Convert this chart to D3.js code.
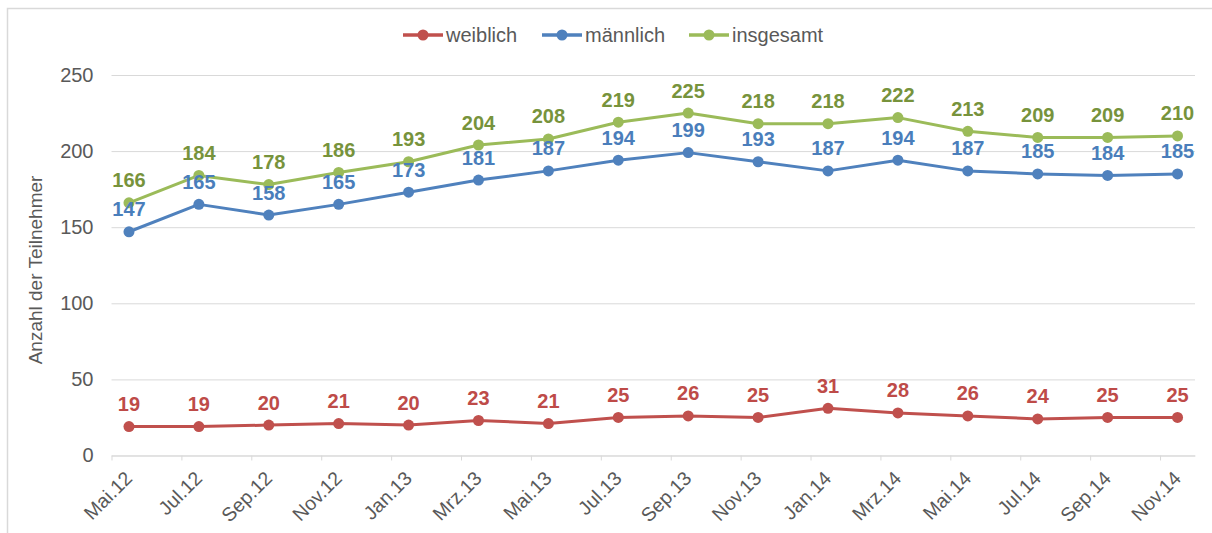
<!DOCTYPE html>
<html>
<head>
<meta charset="utf-8">
<script src="https://cdn.jsdelivr.net/npm/d3@7"></script>
<style>
    body { margin: 0; background: #fff; }
    svg { display: block; font-family: Arial, "Liberation Sans", sans-serif; }
</style>
</head>
<body>
<div id="chart"></div>
<script>
// Erhebungszeitpunkte (alle zwei Monate)
const categories = ['Mai.12', 'Jul.12', 'Sep.12', 'Nov.12', 'Jan.13', 'Mrz.13', 'Mai.13', 'Jul.13',
    'Sep.13', 'Nov.13', 'Jan.14', 'Mrz.14', 'Mai.14', 'Jul.14', 'Sep.14', 'Nov.14'];
const weiblich = [19, 19, 20, 21, 20, 23, 21, 25, 26, 25, 31, 28, 26, 24, 25, 25];
const maennlich = [147, 165, 158, 165, 173, 181, 187, 194, 199, 193, 187, 194, 187, 185, 184, 185];
const insgesamt = [166, 184, 178, 186, 193, 204, 208, 219, 225, 218, 218, 222, 213, 209, 209, 210];
const yTicks = [0, 50, 100, 150, 200, 250];
const seriesNames = ['weiblich', 'männlich', 'insgesamt'];

const series = [
    { name: seriesNames[0], values: weiblich, line: '#c0504d', label: '#be4b48' },
    { name: seriesNames[1], values: maennlich, line: '#4f81bd', label: '#4a7ebb' },
    { name: seriesNames[2], values: insgesamt, line: '#9bbb59', label: '#77933c' },
];

const width = 1212, height = 533;
const plot = { left: 111.5, right: 1195, top: 75, bottom: 455.5 };

const svg = d3.select('#chart').append('svg')
    .attr('width', width)
    .attr('height', height);

svg.append('rect').attr('width', width).attr('height', height).attr('fill', '#fff');
// Rahmen
svg.append('rect')
    .attr('x', 7.5).attr('y', 8.5)
    .attr('width', 1212).attr('height', 540)
    .attr('fill', 'none').attr('stroke', '#d9d9d9').attr('stroke-width', 1.5);

// x: Monate seit Mai 2012, Punkte jeweils zur Monatsmitte
const x = d3.scaleLinear().domain([0, 31]).range([plot.left, plot.right]);
const xPos = (i) => x(2 * i + 0.5);

const y = d3.scaleLinear().domain([0, 250]).range([plot.bottom, plot.top]);

// y-Achse mit Gitterlinien
const yAxis = svg.append('g')
    .attr('transform', `translate(${plot.left},0)`)
    .call(d3.axisLeft(y).tickValues(yTicks).tickSize(-(plot.right - plot.left)).tickPadding(18));
yAxis.select('.domain').remove();
yAxis.selectAll('line').attr('stroke', '#d9d9d9').attr('stroke-width', 1);
yAxis.selectAll('text')
    .attr('fill', '#595959')
    .style('font-size', '20px');

// x-Achse
const xAxis = svg.append('g')
    .attr('transform', `translate(0,${plot.bottom})`)
    .call(d3.axisBottom(x)
        .tickValues(categories.map((c, i) => 2 * i))
        .tickFormat((d, i) => categories[i])
        .tickSizeOuter(0)
        .tickSizeInner(5));
xAxis.select('.domain').attr('stroke', '#d9d9d9');
xAxis.selectAll('line').attr('stroke', '#d9d9d9');
xAxis.selectAll('text')
    .attr('x', 0).attr('y', 0).attr('dy', 0)
    .attr('text-anchor', 'end')
    .attr('transform', 'translate(21.5,24) rotate(-45)')
    .attr('fill', '#595959')
    .style('font-size', '19.5px');

// y-Achsentitel
svg.append('text')
    .attr('transform', 'translate(42,270) rotate(-90)')
    .attr('text-anchor', 'middle')
    .attr('fill', '#595959')
    .style('font-size', '19px')
    .text('Anzahl der Teilnehmer');

// Linien und Punkte
const line = d3.line()
    .x((d, i) => xPos(i))
    .y((d) => y(d));

series.forEach((s) => {
    svg.append('path')
        .datum(s.values)
        .attr('fill', 'none')
        .attr('stroke', s.line)
        .attr('stroke-width', 3)
        .attr('stroke-linejoin', 'round')
        .attr('d', line);

    svg.selectAll(null)
        .data(s.values)
        .enter()
        .append('circle')
        .attr('cx', (d, i) => xPos(i))
        .attr('cy', (d) => y(d))
        .attr('r', 5.5)
        .attr('fill', s.line);
});

// Datenbeschriftungen
series.forEach((s) => {
    svg.selectAll(null)
        .data(s.values)
        .enter()
        .append('text')
        .attr('x', (d, i) => xPos(i))
        .attr('y', (d) => y(d) - 15.5)
        .attr('text-anchor', 'middle')
        .attr('fill', s.label)
        .style('font-size', '20px')
        .style('font-weight', 'bold')
        .text((d) => d);
});

// Legende
const legendItems = [
    { x: 403, text: 446 },
    { x: 542, text: 585 },
    { x: 689, text: 732 },
];
series.forEach((s, i) => {
    const g = svg.append('g');
    const lx = legendItems[i].x;
    g.append('line')
        .attr('x1', lx).attr('x2', lx + 40)
        .attr('y1', 35).attr('y2', 35)
        .attr('stroke', s.line).attr('stroke-width', 3.5);
    g.append('circle')
        .attr('cx', lx + 20).attr('cy', 35).attr('r', 5.5)
        .attr('fill', s.line);
    g.append('text')
        .attr('x', legendItems[i].text).attr('y', 42)
        .attr('fill', '#595959')
        .style('font-size', '20px')
        .text(s.name);
});
</script>
</body>
</html>
